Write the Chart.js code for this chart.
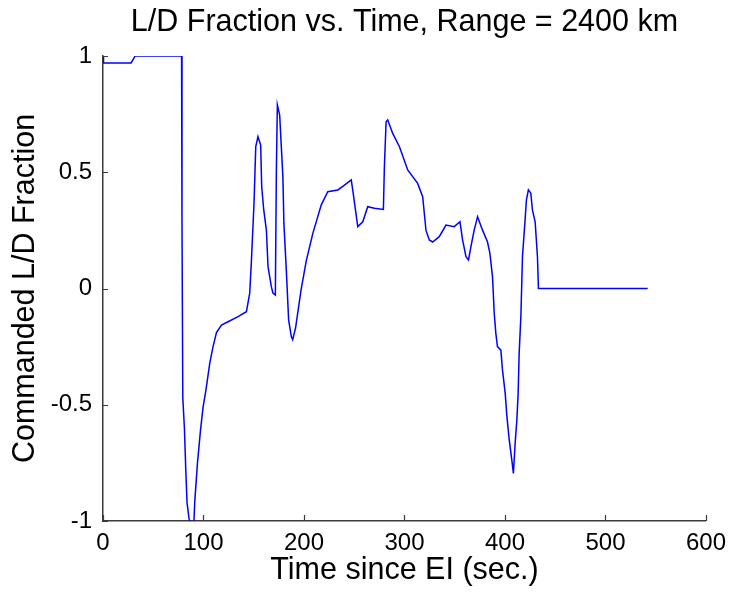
<!DOCTYPE html>
<html lang="en">
<head>
    <meta charset="UTF-8">
    <title>L/D Fraction vs. Time</title>
    <style>
        body {
            margin: 0;
            background-color: #ffffff;
        }
        #chartContainer {
            width: 734px;
            height: 592px;
        }
    </style>
    <script src="https://cdn.jsdelivr.net/npm/chart.js"></script>
</head>
<body>
    <div id="chartContainer">
        <canvas id="myChart"></canvas>
    </div>

    <script>
        // Time since EI (sec.)
        const times = [0, 0.5, 28, 32, 78.2, 78.6, 79.4, 81, 82.3, 83.6, 85.6, 88, 90.5, 91.4, 94, 97, 99.6, 102.3, 106.3, 109.5,
            112.9, 117.9, 124.4, 134.4, 142.7, 146, 147.7, 150.3, 152, 154.2, 156.9, 157.9, 159.9, 162.6, 164.2, 167.5, 169.1, 171.5,
            172.5, 173.5, 175.8, 179, 180, 182.4, 184.7, 187.4, 188.7, 191.6, 194.6, 197.3, 202.3, 208.8, 217.2, 223.7, 233.7, 240.3,
            247, 248.5, 253.5, 258.5, 263.4, 270.1, 279, 280, 281.7, 283.3, 288.3, 295, 303.2, 313.1, 318.1, 321.4, 324.7, 328,
            334.6, 341.3, 349.5, 355.2, 357.8, 361.2, 363.7, 366.1, 369.4, 372.7, 377.6, 382.6, 385, 387.6, 389.3, 390.9, 392.5,
            395.9, 397.5, 400.2, 401.9, 404.2, 406.8, 408.4, 410.1, 411.8, 413.1, 414.1, 415.8, 417.4, 420, 421.3, 423.3, 425.7,
            427.3, 430, 432.3, 433.3, 542];
        // Commanded L/D fraction
        const ldFraction = [1.0, 0.97, 0.97, 1.0, 1.0, 0.29, -0.47, -0.6, -0.77, -0.92, -0.99, -1.02, -1.0, -0.91, -0.75, -0.61, -0.51, -0.44, -0.32, -0.25,
            -0.19, -0.157, -0.143, -0.121, -0.10, -0.02, 0.12, 0.37, 0.61, 0.653, 0.617, 0.44, 0.34, 0.25, 0.094, 0.008, -0.02, -0.028,
            0.5, 0.79, 0.746, 0.48, 0.28, 0.08, -0.135, -0.207, -0.22, -0.17, -0.08, 0.0, 0.12, 0.237, 0.36, 0.416, 0.424, 0.445,
            0.467, 0.424, 0.266, 0.287, 0.352, 0.345, 0.34, 0.524, 0.717, 0.725, 0.667, 0.61, 0.51, 0.452, 0.395, 0.25, 0.209, 0.2,
            0.223, 0.273, 0.266, 0.287, 0.209, 0.137, 0.123, 0.18, 0.252, 0.309, 0.252, 0.2, 0.151, 0.05, -0.107, -0.193, -0.25,
            -0.265, -0.35, -0.45, -0.55, -0.65, -0.738, -0.795, -0.666, -0.566, -0.45, -0.279, -0.121, 0.137, 0.295, 0.38, 0.424, 0.41,
            0.338, 0.287, 0.137, 0.0, 0.0];

        const xTicks = [0, 100, 200, 300, 400, 500, 600];
        const yTicks = [-1, -0.5, 0, 0.5, 1];
        const yTickLabels = ['-1', '-0.5', '0', '0.5', '1'];

        const fontFamily = "'Liberation Sans', Arial, sans-serif";
        const axisColor = '#3a3a3a';

        // MATLAB style: tick marks pointing into the plot
        const inwardTicks = {
            id: 'inwardTicks',
            afterDatasetsDraw(chart) {
                const {ctx, chartArea, scales} = chart;
                ctx.save();
                ctx.strokeStyle = axisColor;
                ctx.lineWidth = 1.2;
                ctx.beginPath();
                xTicks.forEach(v => {
                    const px = Math.round(scales.x.getPixelForValue(v)) + 0.5;
                    ctx.moveTo(px, chartArea.bottom);
                    ctx.lineTo(px, chartArea.bottom - 6);
                });
                yTicks.forEach(v => {
                    const py = Math.round(scales.y.getPixelForValue(v)) + 0.5;
                    ctx.moveTo(chartArea.left, py);
                    ctx.lineTo(chartArea.left + 5, py);
                });
                ctx.stroke();
                ctx.restore();
            }
        };

        const ctx = document.getElementById('myChart').getContext('2d');
        const myChart = new Chart(ctx, {
            type: 'line',
            data: {
                datasets: [{
                    data: times.map((t, i) => ({x: t, y: ldFraction[i]})),
                    borderColor: '#0000ff',
                    borderWidth: 1.5,
                    pointRadius: 0,
                    tension: 0,
                    fill: false
                }]
            },
            options: {
                responsive: true,
                maintainAspectRatio: false,
                animation: false,
                layout: {
                    padding: {left: 0, right: 26, top: 0, bottom: 0}
                },
                plugins: {
                    legend: {display: false},
                    tooltip: {enabled: false},
                    title: {
                        display: true,
                        text: 'L/D Fraction vs. Time, Range = 2400 km',
                        color: '#000',
                        fullSize: false,
                        font: {family: fontFamily, size: 30.5, weight: 'normal'},
                        padding: {top: 4.2, bottom: 15.2}
                    }
                },
                scales: {
                    x: {
                        type: 'linear',
                        min: 0,
                        max: 600,
                        afterBuildTicks: scale => {
                            scale.ticks = xTicks.map(v => ({value: v}));
                        },
                        afterFit: scale => {
                            scale.height = 71;
                        },
                        grid: {display: false, drawTicks: false},
                        border: {display: true, color: axisColor, width: 1.5},
                        ticks: {
                            color: '#000',
                            padding: 8,
                            maxRotation: 0,
                            font: {family: fontFamily, size: 24},
                            callback: v => String(v)
                        },
                        title: {
                            display: true,
                            text: 'Time since EI (sec.)',
                            color: '#000',
                            font: {family: fontFamily, size: 30.5},
                            padding: {top: 0, bottom: 2.7}
                        }
                    },
                    y: {
                        min: -1,
                        max: 1,
                        afterBuildTicks: scale => {
                            scale.ticks = yTicks.map(v => ({value: v}));
                        },
                        afterFit: scale => {
                            scale.width = 103;
                        },
                        grid: {display: false, drawTicks: false},
                        border: {display: true, color: axisColor, width: 1.5},
                        ticks: {
                            color: '#000',
                            padding: 11,
                            font: {family: fontFamily, size: 24},
                            callback: v => yTickLabels[yTicks.indexOf(v)]
                        },
                        title: {
                            display: true,
                            text: 'Commanded L/D Fraction',
                            color: '#000',
                            font: {family: fontFamily, size: 30.5},
                            padding: {top: 7.7, bottom: 0}
                        }
                    }
                }
            },
            plugins: [inwardTicks]
        });
    </script>
</body>
</html>
